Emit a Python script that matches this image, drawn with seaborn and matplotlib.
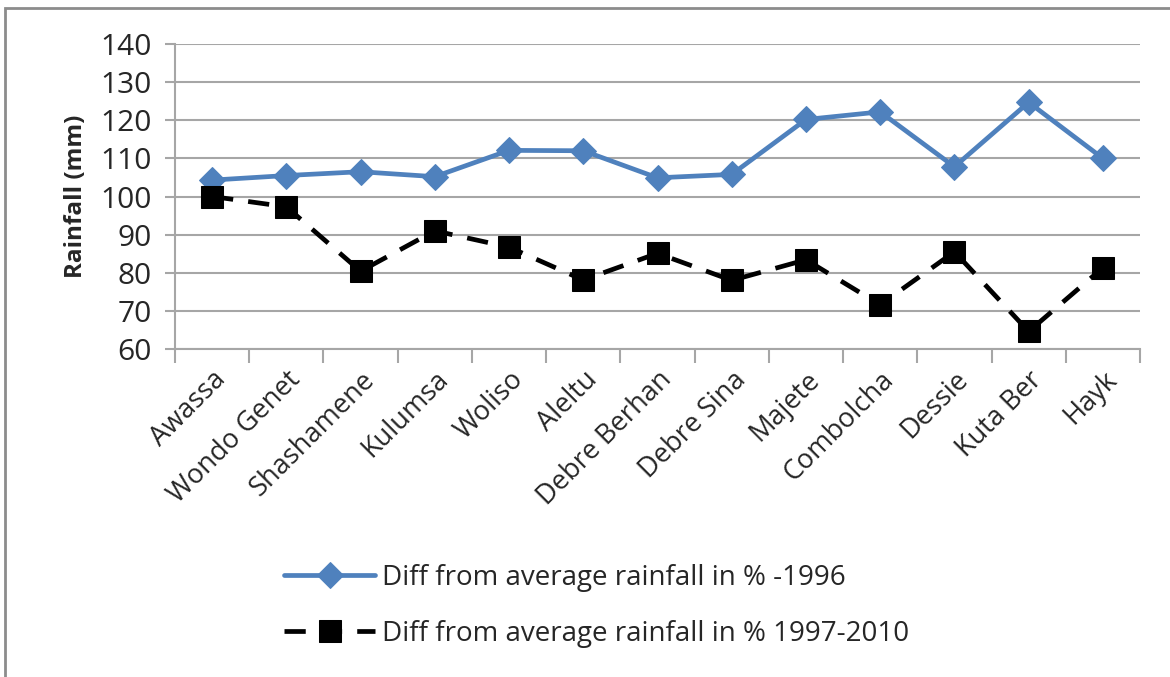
import matplotlib
matplotlib.use("Agg")
import matplotlib.pyplot as plt
from matplotlib.patches import Rectangle
from matplotlib.ticker import MultipleLocator, FixedLocator
import seaborn as sns
import pandas as pd

# Station names along the x axis
sites = ["Awassa", "Wondo Genet", "Shashamene", "Kulumsa", "Woliso", "Aleltu",
         "Debre Berhan", "Debre Sina", "Majete", "Combolcha", "Dessie",
         "Kuta Ber", "Hayk"]

# Rainfall relative to the long-term mean (%)
until_1996 = [104.3, 105.5, 106.5, 105.2, 112.1, 112.0, 104.9, 105.8,
              120.2, 122.2, 107.8, 124.7, 110.0]
period_1997_2010 = [100.0, 97.3, 80.4, 91.0, 86.7, 78.1, 85.1, 78.0,
                    83.4, 71.6, 85.5, 64.6, 81.3]

label_a = "Diff from average rainfall in % -1996"
label_b = "Diff from average rainfall in % 1997-2010"

df = pd.DataFrame({
    "site": sites * 2,
    "rain": until_1996 + period_1997_2010,
    "series": [label_a] * len(sites) + [label_b] * len(sites),
})

sns.set_theme(style="white")
plt.rcParams["font.family"] = ["Open Sans", "DejaVu Sans"]

fig = plt.figure(figsize=(11.7, 6.77), dpi=100)
ax = fig.add_axes([175 / 1170, 1 - 349 / 677, (1140 - 175) / 1170, (349 - 44) / 677])

blue = "#4F81BD"
sns.lineplot(data=df[df.series == label_a], x="site", y="rain", ax=ax,
             color=blue, lw=3.4, marker="D", markersize=13.5,
             markeredgecolor=blue, sort=False, label=label_a)
sns.lineplot(data=df[df.series == label_b], x="site", y="rain", ax=ax,
             color="black", lw=3.4, marker="s", markersize=16,
             markeredgecolor="black", sort=False, label=label_b,
             dashes=(4.5, 3.2))

ax.set_ylim(60, 140)
ax.set_xlim(-0.5, len(sites) - 0.5)
ax.yaxis.set_major_locator(MultipleLocator(10))
ax.grid(axis="y", color="#a6a6a6", lw=1.5)
ax.set_axisbelow(True)

for side in ("top", "right"):
    ax.spines[side].set_visible(False)
for side in ("left", "bottom"):
    ax.spines[side].set_color("#a6a6a6")
    ax.spines[side].set_linewidth(1.5)

ax.tick_params(axis="y", which="major", length=7, width=1.5, color="#a6a6a6",
               labelsize=21.5, pad=10, left=True)
ax.set_xticks(range(len(sites)))
ax.set_xticklabels(sites, rotation=45, ha="right", rotation_mode="anchor",
                   fontsize=19.5)
ax.tick_params(axis="x", which="major", length=0, pad=12)
ax.xaxis.set_minor_locator(FixedLocator([i - 0.5 for i in range(len(sites) + 1)]))
ax.tick_params(axis="x", which="minor", length=10, width=1.5, color="#a6a6a6",
               bottom=True)

ax.set_xlabel("")
ax.set_ylabel("Rainfall (mm)", fontsize=17.5, fontweight="bold", labelpad=9)

ax.get_legend().remove()
handles, labels = ax.get_legend_handles_labels()
fig.legend(handles, labels, loc="center", bbox_to_anchor=(0.51, 0.105),
           frameon=False, fontsize=20, handlelength=3.3, handletextpad=0.25,
           labelspacing=1.0)

# Outer chart frame
fig.patches.append(Rectangle((5 / 1170, -0.05), 1.2, 1 - 8 / 677 + 0.05,
                             transform=fig.transFigure, fill=False,
                             edgecolor="#8c8c8c", lw=2))

fig.savefig("out.png", dpi=100)
